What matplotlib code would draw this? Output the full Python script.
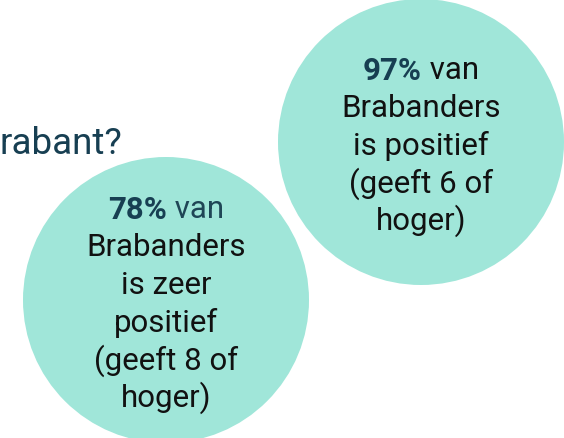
import matplotlib
matplotlib.use("Agg")
import matplotlib.pyplot as plt
from matplotlib.patches import Circle

# Data
percentages = ["97%", "78%"]
first_line_rest = [" van", " van"]
body_lines = [
    ["Brabanders", "is positief", "(geeft 6 of", "hoger)"],
    ["Brabanders", "is zeer", "positief", "(geeft 8 of", "hoger)"],
]
title_fragment = "rabant?"

# Layout (pixel coordinates)
centers = [(421, 142), (166, 300)]
radius = 143
line_gap = 37.6
text_offset = 4
circle_color = "#a0e6d9"
dark_teal = "#173f52"
text_color = "#111111"
van_colors = [text_color, "#1f4656"]

W, H = 564, 438
fig = plt.figure(figsize=(W / 100, H / 100), dpi=100)
ax = fig.add_axes([0, 0, 1, 1])
ax.set_xlim(0, W)
ax.set_ylim(H, 0)
ax.set_aspect("equal")
ax.axis("off")

font = "Roboto"
fs = 22.5

ax.text(-1, 144, title_fragment, fontsize=26.5, family=font, color=dark_teal,
        ha="left", va="center")

renderer = fig.canvas.get_renderer()

for i, (cx, cy) in enumerate(centers):
    ax.add_patch(Circle((cx, cy), radius, color=circle_color, lw=0, zorder=1))
    n = 1 + len(body_lines[i])
    y0 = cy + text_offset - (n - 1) / 2 * line_gap
    # first line: bold percentage + regular rest
    tb = ax.text(0, y0, percentages[i], fontsize=fs, family=font, weight="bold",
                 color=dark_teal, ha="left", va="center", zorder=3)
    tr = ax.text(0, y0, first_line_rest[i], fontsize=fs, family=font,
                 color=van_colors[i], ha="left", va="center", zorder=3)
    wb = tb.get_window_extent(renderer).width
    wr = tr.get_window_extent(renderer).width
    total = wb + wr
    xs = cx - total / 2
    tb.set_x(xs)
    tr.set_x(xs + wb)
    for j, line in enumerate(body_lines[i]):
        ax.text(cx, y0 + (j + 1) * line_gap, line, fontsize=fs, family=font,
                color=text_color, ha="center", va="center", zorder=3)

fig.savefig("out.png", dpi=100)
